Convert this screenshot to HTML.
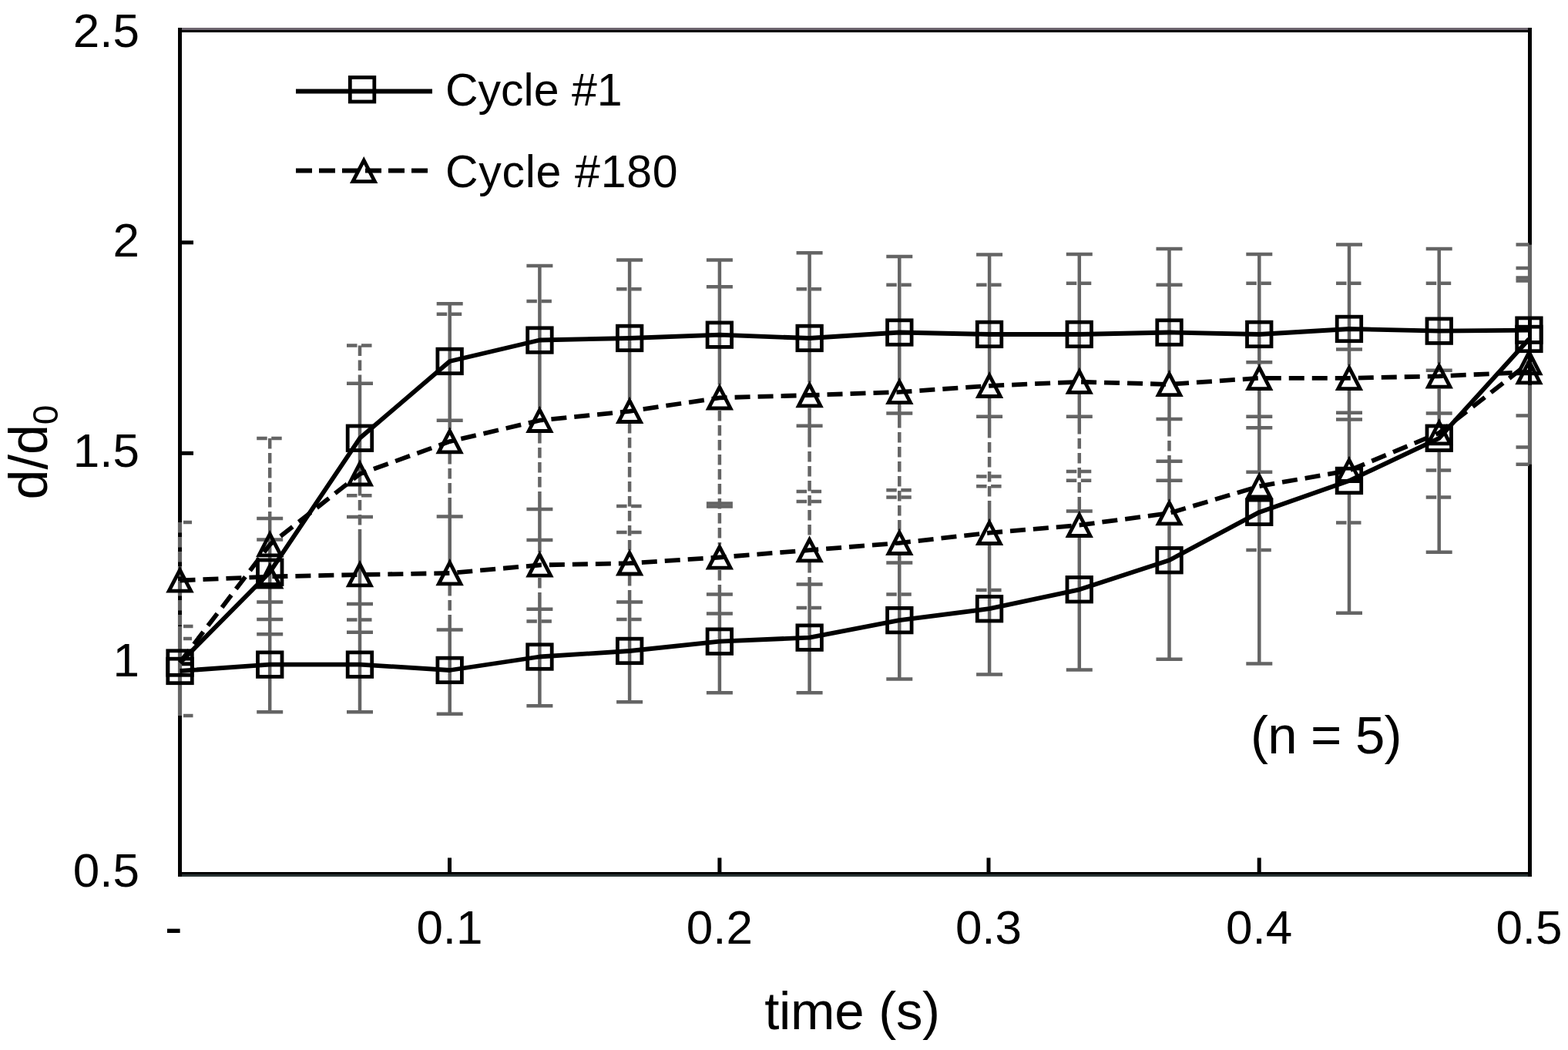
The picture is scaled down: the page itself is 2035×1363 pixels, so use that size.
<!DOCTYPE html>
<html><head><meta charset="utf-8"><title>d/d0 vs time</title>
<style>html,body{margin:0;padding:0;background:#fff;}svg{display:block;}text{font-family:"Liberation Sans",sans-serif;fill:#000;}</style>
</head><body>
<svg width="2035" height="1363" viewBox="0 0 2035 1363">
<rect x="0" y="0" width="2035" height="1363" fill="#fff"/>
<g>
<rect x="231" y="36" width="1757" height="3" fill="#6e6670"/>
<rect x="231" y="39" width="1757" height="3" fill="#000"/>
<rect x="231" y="1132" width="1757" height="3" fill="#000"/>
<rect x="231" y="1135" width="1757" height="3" fill="#2b3636"/>
<rect x="231" y="36" width="5" height="1102" fill="#000"/>
<rect x="1983" y="36" width="5" height="1102" fill="#000"/>
<rect x="236" y="312.3" width="15" height="5" fill="#000"/>
<rect x="236" y="585.8" width="15" height="5" fill="#000"/>
<rect x="236" y="859.3" width="15" height="5" fill="#000"/>
<rect x="581.0" y="1113.5" width="5" height="19" fill="#000"/>
<rect x="931.4" y="1113.5" width="5" height="19" fill="#000"/>
<rect x="1280.5" y="1113.5" width="5" height="19" fill="#000"/>
<rect x="1631.7" y="1113.5" width="5" height="19" fill="#000"/>
</g>
<defs><clipPath id="pc"><rect x="238" y="0" width="1746.5" height="1363"/></clipPath></defs>
<g stroke="#646464" fill="none">
<line x1="233.5" y1="678.0" x2="233.5" y2="760.0" stroke-width="5.2" stroke-dasharray="13.5 5.5"/>
<line x1="233.5" y1="760.0" x2="233.5" y2="813.0" stroke-width="5.2" stroke-dasharray="13.5 5.5"/>
<line x1="233.5" y1="813.0" x2="233.5" y2="929.0" stroke-width="5.2"/>
<line x1="350.2" y1="569.0" x2="350.2" y2="673.0" stroke-width="4.5" stroke-dasharray="13.5 5.5"/>
<line x1="350.2" y1="673.0" x2="350.2" y2="924.3" stroke-width="4.5"/>
<line x1="467.0" y1="448.4" x2="467.0" y2="497.8" stroke-width="4.5" stroke-dasharray="13.5 5.5"/>
<line x1="467.0" y1="497.8" x2="467.0" y2="630.0" stroke-width="4.5"/>
<line x1="467.0" y1="630.0" x2="467.0" y2="700.0" stroke-width="4.5" stroke-dasharray="13.5 5.5"/>
<line x1="467.0" y1="700.0" x2="467.0" y2="924.3" stroke-width="4.5"/>
<line x1="583.7" y1="394.3" x2="583.7" y2="557.0" stroke-width="4.5"/>
<line x1="583.7" y1="589.0" x2="583.7" y2="653.0" stroke-width="4.5" stroke-dasharray="13.5 5.5"/>
<line x1="583.7" y1="653.0" x2="583.7" y2="729.0" stroke-width="4.5"/>
<line x1="583.7" y1="760.0" x2="583.7" y2="810.0" stroke-width="4.5" stroke-dasharray="13.5 5.5"/>
<line x1="583.7" y1="810.0" x2="583.7" y2="926.8" stroke-width="4.5"/>
<line x1="700.4" y1="344.9" x2="700.4" y2="530.0" stroke-width="4.5"/>
<line x1="700.4" y1="562.0" x2="700.4" y2="646.0" stroke-width="4.5" stroke-dasharray="13.5 5.5"/>
<line x1="700.4" y1="646.0" x2="700.4" y2="717.0" stroke-width="4.5"/>
<line x1="700.4" y1="750.0" x2="700.4" y2="775.0" stroke-width="4.5" stroke-dasharray="13.5 5.5"/>
<line x1="700.4" y1="775.0" x2="700.4" y2="916.3" stroke-width="4.5"/>
<line x1="817.1" y1="337.4" x2="817.1" y2="518.0" stroke-width="4.5"/>
<line x1="817.1" y1="549.0" x2="817.1" y2="715.0" stroke-width="4.5" stroke-dasharray="13.5 5.5"/>
<line x1="817.1" y1="747.0" x2="817.1" y2="770.0" stroke-width="4.5" stroke-dasharray="13.5 5.5"/>
<line x1="817.1" y1="770.0" x2="817.1" y2="911.3" stroke-width="4.5"/>
<line x1="933.9" y1="337.4" x2="933.9" y2="499.5" stroke-width="4.5"/>
<line x1="933.9" y1="533.0" x2="933.9" y2="707.0" stroke-width="4.5" stroke-dasharray="13.5 5.5"/>
<line x1="933.9" y1="740.0" x2="933.9" y2="765.0" stroke-width="4.5" stroke-dasharray="13.5 5.5"/>
<line x1="933.9" y1="765.0" x2="933.9" y2="899.3" stroke-width="4.5"/>
<line x1="1050.6" y1="328.2" x2="1050.6" y2="496.5" stroke-width="4.5"/>
<line x1="1050.6" y1="529.5" x2="1050.6" y2="567.0" stroke-width="4.5"/>
<line x1="1050.6" y1="567.0" x2="1050.6" y2="698.5" stroke-width="4.5" stroke-dasharray="13.5 5.5"/>
<line x1="1050.6" y1="730.0" x2="1050.6" y2="752.0" stroke-width="4.5" stroke-dasharray="13.5 5.5"/>
<line x1="1050.6" y1="752.0" x2="1050.6" y2="899.3" stroke-width="4.5"/>
<line x1="1167.3" y1="332.9" x2="1167.3" y2="493.3" stroke-width="4.5"/>
<line x1="1167.3" y1="524.5" x2="1167.3" y2="542.0" stroke-width="4.5"/>
<line x1="1167.3" y1="542.0" x2="1167.3" y2="688.6" stroke-width="4.5" stroke-dasharray="13.5 5.5"/>
<line x1="1167.3" y1="721.0" x2="1167.3" y2="881.4" stroke-width="4.5"/>
<line x1="1284.1" y1="330.4" x2="1284.1" y2="485.8" stroke-width="4.5"/>
<line x1="1284.1" y1="515.7" x2="1284.1" y2="555.0" stroke-width="4.5"/>
<line x1="1284.1" y1="555.0" x2="1284.1" y2="660.0" stroke-width="4.5" stroke-dasharray="13.5 5.5"/>
<line x1="1284.1" y1="660.0" x2="1284.1" y2="676.0" stroke-width="4.5"/>
<line x1="1284.1" y1="707.3" x2="1284.1" y2="875.6" stroke-width="4.5"/>
<line x1="1400.8" y1="329.9" x2="1400.8" y2="480.8" stroke-width="4.5"/>
<line x1="1400.8" y1="510.7" x2="1400.8" y2="550.0" stroke-width="4.5"/>
<line x1="1400.8" y1="550.0" x2="1400.8" y2="646.0" stroke-width="4.5" stroke-dasharray="13.5 5.5"/>
<line x1="1400.8" y1="646.0" x2="1400.8" y2="666.0" stroke-width="4.5"/>
<line x1="1400.8" y1="697.3" x2="1400.8" y2="869.4" stroke-width="4.5"/>
<line x1="1517.5" y1="322.9" x2="1517.5" y2="483.3" stroke-width="4.5"/>
<line x1="1517.5" y1="514.5" x2="1517.5" y2="553.0" stroke-width="4.5"/>
<line x1="1517.5" y1="553.0" x2="1517.5" y2="598.8" stroke-width="4.5" stroke-dasharray="13.5 5.5"/>
<line x1="1517.5" y1="598.8" x2="1517.5" y2="650.0" stroke-width="4.5"/>
<line x1="1517.5" y1="682.3" x2="1517.5" y2="855.7" stroke-width="4.5"/>
<line x1="1634.3" y1="329.9" x2="1634.3" y2="474.6" stroke-width="4.5"/>
<line x1="1634.3" y1="507.0" x2="1634.3" y2="615.0" stroke-width="4.5"/>
<line x1="1634.3" y1="647.4" x2="1634.3" y2="861.4" stroke-width="4.5"/>
<line x1="1751.0" y1="317.4" x2="1751.0" y2="474.6" stroke-width="4.5"/>
<line x1="1751.0" y1="507.0" x2="1751.0" y2="595.0" stroke-width="4.5"/>
<line x1="1751.0" y1="642.0" x2="1751.0" y2="795.8" stroke-width="4.5"/>
<line x1="1867.7" y1="322.9" x2="1867.7" y2="472.1" stroke-width="4.5"/>
<line x1="1867.7" y1="504.5" x2="1867.7" y2="547.0" stroke-width="4.5"/>
<line x1="1867.7" y1="587.0" x2="1867.7" y2="716.7" stroke-width="4.5"/>
<line x1="1985.5" y1="317.6" x2="1985.5" y2="411.0" stroke-width="5.2"/>
<line x1="1985.5" y1="500.0" x2="1985.5" y2="602.8" stroke-width="5.2"/>
</g>
<g stroke="#646464" fill="none" clip-path="url(#pc)">
<line x1="216.5" y1="678.0" x2="250.5" y2="678.0" stroke-width="4.5" stroke-dasharray="13.5 5.5"/>
<line x1="216.5" y1="813.0" x2="250.5" y2="813.0" stroke-width="4.5"/>
<line x1="216.5" y1="829.0" x2="250.5" y2="829.0" stroke-width="4.5" stroke-dasharray="13.5 5.5"/>
<line x1="216.5" y1="929.0" x2="250.5" y2="929.0" stroke-width="4.5"/>
<line x1="333.2" y1="569.0" x2="367.2" y2="569.0" stroke-width="4.5" stroke-dasharray="13.5 5.5"/>
<line x1="333.2" y1="673.0" x2="367.2" y2="673.0" stroke-width="4.5"/>
<line x1="333.2" y1="700.6" x2="367.2" y2="700.6" stroke-width="4.5"/>
<line x1="333.2" y1="781.6" x2="367.2" y2="781.6" stroke-width="4.5"/>
<line x1="333.2" y1="804.1" x2="367.2" y2="804.1" stroke-width="4.5"/>
<line x1="333.2" y1="823.3" x2="367.2" y2="823.3" stroke-width="4.5"/>
<line x1="333.2" y1="924.3" x2="367.2" y2="924.3" stroke-width="4.5"/>
<line x1="450.0" y1="448.4" x2="484.0" y2="448.4" stroke-width="4.5" stroke-dasharray="13.5 5.5"/>
<line x1="450.0" y1="497.8" x2="484.0" y2="497.8" stroke-width="4.5"/>
<line x1="450.0" y1="643.2" x2="484.0" y2="643.2" stroke-width="4.5" stroke-dasharray="13.5 5.5"/>
<line x1="450.0" y1="671.1" x2="484.0" y2="671.1" stroke-width="4.5"/>
<line x1="450.0" y1="784.1" x2="484.0" y2="784.1" stroke-width="4.5"/>
<line x1="450.0" y1="804.6" x2="484.0" y2="804.6" stroke-width="4.5" stroke-dasharray="13.5 5.5"/>
<line x1="450.0" y1="820.8" x2="484.0" y2="820.8" stroke-width="4.5"/>
<line x1="450.0" y1="924.3" x2="484.0" y2="924.3" stroke-width="4.5"/>
<line x1="566.7" y1="394.3" x2="600.7" y2="394.3" stroke-width="4.5"/>
<line x1="566.7" y1="407.7" x2="600.7" y2="407.7" stroke-width="4.5" stroke-dasharray="13.5 5.5"/>
<line x1="566.7" y1="545.7" x2="600.7" y2="545.7" stroke-width="4.5"/>
<line x1="566.7" y1="670.6" x2="600.7" y2="670.6" stroke-width="4.5"/>
<line x1="566.7" y1="817.5" x2="600.7" y2="817.5" stroke-width="4.5"/>
<line x1="566.7" y1="926.8" x2="600.7" y2="926.8" stroke-width="4.5"/>
<line x1="683.4" y1="344.9" x2="717.4" y2="344.9" stroke-width="4.5"/>
<line x1="683.4" y1="391.0" x2="717.4" y2="391.0" stroke-width="4.5" stroke-dasharray="13.5 5.5"/>
<line x1="683.4" y1="661.1" x2="717.4" y2="661.1" stroke-width="4.5"/>
<line x1="683.4" y1="701.0" x2="717.4" y2="701.0" stroke-width="4.5"/>
<line x1="683.4" y1="790.8" x2="717.4" y2="790.8" stroke-width="4.5"/>
<line x1="683.4" y1="806.5" x2="717.4" y2="806.5" stroke-width="4.5" stroke-dasharray="13.5 5.5"/>
<line x1="683.4" y1="916.3" x2="717.4" y2="916.3" stroke-width="4.5"/>
<line x1="800.1" y1="337.4" x2="834.1" y2="337.4" stroke-width="4.5"/>
<line x1="800.1" y1="375.3" x2="834.1" y2="375.3" stroke-width="4.5" stroke-dasharray="13.5 5.5"/>
<line x1="800.1" y1="656.9" x2="834.1" y2="656.9" stroke-width="4.5" stroke-dasharray="13.5 5.5"/>
<line x1="800.1" y1="691.0" x2="834.1" y2="691.0" stroke-width="4.5" stroke-dasharray="13.5 5.5"/>
<line x1="800.1" y1="781.6" x2="834.1" y2="781.6" stroke-width="4.5"/>
<line x1="800.1" y1="804.0" x2="834.1" y2="804.0" stroke-width="4.5" stroke-dasharray="13.5 5.5"/>
<line x1="800.1" y1="911.3" x2="834.1" y2="911.3" stroke-width="4.5"/>
<line x1="916.9" y1="337.4" x2="950.9" y2="337.4" stroke-width="4.5"/>
<line x1="916.9" y1="372.3" x2="950.9" y2="372.3" stroke-width="4.5"/>
<line x1="916.9" y1="653.6" x2="950.9" y2="653.6" stroke-width="4.5"/>
<line x1="916.9" y1="657.4" x2="950.9" y2="657.4" stroke-width="4.5"/>
<line x1="916.9" y1="771.6" x2="950.9" y2="771.6" stroke-width="4.5"/>
<line x1="916.9" y1="796.6" x2="950.9" y2="796.6" stroke-width="4.5"/>
<line x1="916.9" y1="899.3" x2="950.9" y2="899.3" stroke-width="4.5"/>
<line x1="1033.6" y1="328.2" x2="1067.6" y2="328.2" stroke-width="4.5"/>
<line x1="1033.6" y1="375.3" x2="1067.6" y2="375.3" stroke-width="4.5" stroke-dasharray="13.5 5.5"/>
<line x1="1033.6" y1="552.7" x2="1067.6" y2="552.7" stroke-width="4.5"/>
<line x1="1033.6" y1="637.9" x2="1067.6" y2="637.9" stroke-width="4.5" stroke-dasharray="13.5 5.5"/>
<line x1="1033.6" y1="651.1" x2="1067.6" y2="651.1" stroke-width="4.5" stroke-dasharray="13.5 5.5"/>
<line x1="1033.6" y1="758.4" x2="1067.6" y2="758.4" stroke-width="4.5"/>
<line x1="1033.6" y1="789.1" x2="1067.6" y2="789.1" stroke-width="4.5" stroke-dasharray="13.5 5.5"/>
<line x1="1033.6" y1="899.3" x2="1067.6" y2="899.3" stroke-width="4.5"/>
<line x1="1150.3" y1="332.9" x2="1184.3" y2="332.9" stroke-width="4.5"/>
<line x1="1150.3" y1="369.8" x2="1184.3" y2="369.8" stroke-width="4.5" stroke-dasharray="13.5 5.5"/>
<line x1="1150.3" y1="536.4" x2="1184.3" y2="536.4" stroke-width="4.5"/>
<line x1="1150.3" y1="636.2" x2="1184.3" y2="636.2" stroke-width="4.5" stroke-dasharray="13.5 5.5"/>
<line x1="1150.3" y1="645.6" x2="1184.3" y2="645.6" stroke-width="4.5" stroke-dasharray="13.5 5.5"/>
<line x1="1150.3" y1="730.5" x2="1184.3" y2="730.5" stroke-width="4.5"/>
<line x1="1150.3" y1="771.6" x2="1184.3" y2="771.6" stroke-width="4.5" stroke-dasharray="13.5 5.5"/>
<line x1="1150.3" y1="881.4" x2="1184.3" y2="881.4" stroke-width="4.5"/>
<line x1="1267.1" y1="330.4" x2="1301.1" y2="330.4" stroke-width="4.5"/>
<line x1="1267.1" y1="369.8" x2="1301.1" y2="369.8" stroke-width="4.5" stroke-dasharray="13.5 5.5"/>
<line x1="1267.1" y1="540.7" x2="1301.1" y2="540.7" stroke-width="4.5"/>
<line x1="1267.1" y1="618.4" x2="1301.1" y2="618.4" stroke-width="4.5" stroke-dasharray="13.5 5.5"/>
<line x1="1267.1" y1="631.2" x2="1301.1" y2="631.2" stroke-width="4.5" stroke-dasharray="13.5 5.5"/>
<line x1="1267.1" y1="765.9" x2="1301.1" y2="765.9" stroke-width="4.5" stroke-dasharray="13.5 5.5"/>
<line x1="1267.1" y1="875.6" x2="1301.1" y2="875.6" stroke-width="4.5"/>
<line x1="1383.8" y1="329.9" x2="1417.8" y2="329.9" stroke-width="4.5"/>
<line x1="1383.8" y1="367.8" x2="1417.8" y2="367.8" stroke-width="4.5" stroke-dasharray="13.5 5.5"/>
<line x1="1383.8" y1="540.7" x2="1417.8" y2="540.7" stroke-width="4.5"/>
<line x1="1383.8" y1="612.0" x2="1417.8" y2="612.0" stroke-width="4.5" stroke-dasharray="13.5 5.5"/>
<line x1="1383.8" y1="623.7" x2="1417.8" y2="623.7" stroke-width="4.5" stroke-dasharray="13.5 5.5"/>
<line x1="1383.8" y1="663.6" x2="1417.8" y2="663.6" stroke-width="4.5"/>
<line x1="1383.8" y1="869.4" x2="1417.8" y2="869.4" stroke-width="4.5"/>
<line x1="1500.5" y1="322.9" x2="1534.5" y2="322.9" stroke-width="4.5"/>
<line x1="1500.5" y1="369.8" x2="1534.5" y2="369.8" stroke-width="4.5"/>
<line x1="1500.5" y1="543.9" x2="1534.5" y2="543.9" stroke-width="4.5"/>
<line x1="1500.5" y1="598.8" x2="1534.5" y2="598.8" stroke-width="4.5"/>
<line x1="1500.5" y1="623.7" x2="1534.5" y2="623.7" stroke-width="4.5"/>
<line x1="1500.5" y1="855.7" x2="1534.5" y2="855.7" stroke-width="4.5"/>
<line x1="1617.3" y1="329.9" x2="1651.3" y2="329.9" stroke-width="4.5"/>
<line x1="1617.3" y1="367.8" x2="1651.3" y2="367.8" stroke-width="4.5" stroke-dasharray="13.5 5.5"/>
<line x1="1617.3" y1="470.3" x2="1651.3" y2="470.3" stroke-width="4.5"/>
<line x1="1617.3" y1="540.7" x2="1651.3" y2="540.7" stroke-width="4.5"/>
<line x1="1617.3" y1="555.2" x2="1651.3" y2="555.2" stroke-width="4.5"/>
<line x1="1617.3" y1="612.8" x2="1651.3" y2="612.8" stroke-width="4.5"/>
<line x1="1617.3" y1="714.0" x2="1651.3" y2="714.0" stroke-width="4.5" stroke-dasharray="13.5 5.5"/>
<line x1="1617.3" y1="861.4" x2="1651.3" y2="861.4" stroke-width="4.5"/>
<line x1="1734.0" y1="317.4" x2="1768.0" y2="317.4" stroke-width="4.5"/>
<line x1="1734.0" y1="367.8" x2="1768.0" y2="367.8" stroke-width="4.5" stroke-dasharray="13.5 5.5"/>
<line x1="1734.0" y1="453.4" x2="1768.0" y2="453.4" stroke-width="4.5"/>
<line x1="1734.0" y1="535.7" x2="1768.0" y2="535.7" stroke-width="4.5"/>
<line x1="1734.0" y1="544.4" x2="1768.0" y2="544.4" stroke-width="4.5"/>
<line x1="1734.0" y1="678.6" x2="1768.0" y2="678.6" stroke-width="4.5" stroke-dasharray="13.5 5.5"/>
<line x1="1734.0" y1="795.8" x2="1768.0" y2="795.8" stroke-width="4.5"/>
<line x1="1850.7" y1="322.9" x2="1884.7" y2="322.9" stroke-width="4.5"/>
<line x1="1850.7" y1="367.8" x2="1884.7" y2="367.8" stroke-width="4.5" stroke-dasharray="13.5 5.5"/>
<line x1="1850.7" y1="480.8" x2="1884.7" y2="480.8" stroke-width="4.5"/>
<line x1="1850.7" y1="536.4" x2="1884.7" y2="536.4" stroke-width="4.5"/>
<line x1="1850.7" y1="610.5" x2="1884.7" y2="610.5" stroke-width="4.5" stroke-dasharray="13.5 5.5"/>
<line x1="1850.7" y1="645.6" x2="1884.7" y2="645.6" stroke-width="4.5" stroke-dasharray="13.5 5.5"/>
<line x1="1850.7" y1="716.7" x2="1884.7" y2="716.7" stroke-width="4.5"/>
<line x1="1967.5" y1="317.6" x2="2001.5" y2="317.6" stroke-width="4.5"/>
<line x1="1967.5" y1="348.1" x2="2001.5" y2="348.1" stroke-width="4.5"/>
<line x1="1967.5" y1="360.6" x2="2001.5" y2="360.6" stroke-width="4.5"/>
<line x1="1967.5" y1="364.6" x2="2001.5" y2="364.6" stroke-width="4.5"/>
<line x1="1967.5" y1="539.4" x2="2001.5" y2="539.4" stroke-width="4.5"/>
<line x1="1967.5" y1="580.5" x2="2001.5" y2="580.5" stroke-width="4.5"/>
<line x1="1967.5" y1="602.8" x2="2001.5" y2="602.8" stroke-width="4.5"/>
</g>
<g fill="none" stroke="#000" stroke-width="5.8" stroke-linejoin="round">
<polyline points="233.5,860.5 350.2,742.7 467.0,568.8 583.7,469.0 700.4,441.5 817.1,439.0 933.9,434.7 1050.6,439.0 1167.3,431.5 1284.1,434.0 1400.8,434.0 1517.5,431.5 1634.3,434.0 1751.0,427.0 1867.7,429.7 1984.5,428.7"/>
<polyline points="233.5,871.0 350.2,862.6 467.0,862.6 583.7,870.0 700.4,852.5 817.1,845.0 933.9,832.6 1050.6,827.6 1167.3,805.1 1284.1,790.2 1400.8,765.3 1517.5,727.3 1634.3,664.9 1751.0,624.0 1867.7,568.8 1984.5,440.0"/>
<polyline points="233.5,860.0 350.2,707.0 467.0,615.3 583.7,573.1 700.4,545.7 817.1,533.8 933.9,516.3 1050.6,513.0 1167.3,508.9 1284.1,500.8 1400.8,495.7 1517.5,498.9 1634.3,490.8 1751.0,490.8 1867.7,488.3 1984.5,483.0" stroke-dasharray="20 10"/>
<polyline points="233.5,753.5 350.2,748.5 467.0,746.0 583.7,744.0 700.4,733.5 817.1,731.2 933.9,723.5 1050.6,714.1 1167.3,704.8 1284.1,691.7 1400.8,681.7 1517.5,666.1 1634.3,631.2 1751.0,610.7 1867.7,562.0 1984.5,471.0" stroke-dasharray="20 10"/>
</g>
<g fill="none" stroke="#000" stroke-width="4.8" stroke-linejoin="miter">
<rect x="217.8" y="844.8" width="31.5" height="31.5"/>
<rect x="217.8" y="855.2" width="31.5" height="31.5"/>
<rect x="334.5" y="727.0" width="31.5" height="31.5"/>
<rect x="334.5" y="846.9" width="31.5" height="31.5"/>
<rect x="451.2" y="553.0" width="31.5" height="31.5"/>
<rect x="451.2" y="846.9" width="31.5" height="31.5"/>
<rect x="567.9" y="453.2" width="31.5" height="31.5"/>
<rect x="567.9" y="854.2" width="31.5" height="31.5"/>
<rect x="684.7" y="425.8" width="31.5" height="31.5"/>
<rect x="684.7" y="836.8" width="31.5" height="31.5"/>
<rect x="801.4" y="423.2" width="31.5" height="31.5"/>
<rect x="801.4" y="829.2" width="31.5" height="31.5"/>
<rect x="918.1" y="418.9" width="31.5" height="31.5"/>
<rect x="918.1" y="816.9" width="31.5" height="31.5"/>
<rect x="1034.9" y="423.2" width="31.5" height="31.5"/>
<rect x="1034.9" y="811.9" width="31.5" height="31.5"/>
<rect x="1151.6" y="415.8" width="31.5" height="31.5"/>
<rect x="1151.6" y="789.4" width="31.5" height="31.5"/>
<rect x="1268.3" y="418.2" width="31.5" height="31.5"/>
<rect x="1268.3" y="774.5" width="31.5" height="31.5"/>
<rect x="1385.0" y="418.2" width="31.5" height="31.5"/>
<rect x="1385.0" y="749.5" width="31.5" height="31.5"/>
<rect x="1501.8" y="415.8" width="31.5" height="31.5"/>
<rect x="1501.8" y="711.5" width="31.5" height="31.5"/>
<rect x="1618.5" y="418.2" width="31.5" height="31.5"/>
<rect x="1618.5" y="649.1" width="31.5" height="31.5"/>
<rect x="1735.2" y="411.2" width="31.5" height="31.5"/>
<rect x="1735.2" y="608.2" width="31.5" height="31.5"/>
<rect x="1852.0" y="413.9" width="31.5" height="31.5"/>
<rect x="1852.0" y="553.0" width="31.5" height="31.5"/>
<rect x="1968.7" y="412.9" width="31.5" height="31.5"/>
<rect x="1968.7" y="424.2" width="31.5" height="31.5"/>
</g>
<g fill="none" stroke="#000" stroke-width="4.8" stroke-linejoin="miter">
<path d="M233.5,739.8 L247.8,767.2 L219.2,767.2 Z"/>
<path d="M350.2,693.2 L364.5,720.8 L336.0,720.8 Z"/>
<path d="M350.2,734.8 L364.5,762.2 L336.0,762.2 Z"/>
<path d="M467.0,601.5 L481.2,629.0 L452.7,629.0 Z"/>
<path d="M467.0,732.2 L481.2,759.8 L452.7,759.8 Z"/>
<path d="M583.7,559.4 L597.9,586.9 L569.4,586.9 Z"/>
<path d="M583.7,730.2 L597.9,757.8 L569.4,757.8 Z"/>
<path d="M700.4,532.0 L714.7,559.5 L686.2,559.5 Z"/>
<path d="M700.4,719.8 L714.7,747.2 L686.2,747.2 Z"/>
<path d="M817.1,520.0 L831.4,547.5 L802.9,547.5 Z"/>
<path d="M817.1,717.5 L831.4,745.0 L802.9,745.0 Z"/>
<path d="M933.9,502.5 L948.1,530.0 L919.6,530.0 Z"/>
<path d="M933.9,709.8 L948.1,737.2 L919.6,737.2 Z"/>
<path d="M1050.6,499.2 L1064.9,526.8 L1036.4,526.8 Z"/>
<path d="M1050.6,700.4 L1064.9,727.9 L1036.4,727.9 Z"/>
<path d="M1167.3,495.1 L1181.6,522.6 L1153.1,522.6 Z"/>
<path d="M1167.3,691.0 L1181.6,718.5 L1153.1,718.5 Z"/>
<path d="M1284.1,487.1 L1298.3,514.5 L1269.8,514.5 Z"/>
<path d="M1284.1,678.0 L1298.3,705.5 L1269.8,705.5 Z"/>
<path d="M1400.8,481.9 L1415.0,509.4 L1386.5,509.4 Z"/>
<path d="M1400.8,668.0 L1415.0,695.5 L1386.5,695.5 Z"/>
<path d="M1517.5,485.1 L1531.8,512.6 L1503.3,512.6 Z"/>
<path d="M1517.5,652.4 L1531.8,679.9 L1503.3,679.9 Z"/>
<path d="M1634.3,477.1 L1648.5,504.6 L1620.0,504.6 Z"/>
<path d="M1634.3,617.5 L1648.5,645.0 L1620.0,645.0 Z"/>
<path d="M1751.0,477.1 L1765.2,504.6 L1736.7,504.6 Z"/>
<path d="M1751.0,597.0 L1765.2,624.5 L1736.7,624.5 Z"/>
<path d="M1867.7,474.6 L1882.0,502.1 L1853.5,502.1 Z"/>
<path d="M1867.7,548.2 L1882.0,575.8 L1853.5,575.8 Z"/>
<path d="M1984.5,469.2 L1998.7,496.8 L1970.2,496.8 Z"/>
<path d="M1984.5,457.2 L1998.7,484.8 L1970.2,484.8 Z"/>
</g>
<line x1="384" y1="118.5" x2="561" y2="118.5" stroke="#000" stroke-width="6.2"/>
<rect x="454.3" y="100.5" width="31.5" height="31.5" fill="none" stroke="#000" stroke-width="4.8"/>
<line x1="384" y1="221.5" x2="556" y2="221.5" stroke="#000" stroke-width="6.2" stroke-dasharray="21 9"/>
<g fill="none" stroke="#000" stroke-width="4.8"><path d="M472.2,208.2 L486.4,235.7 L457.9,235.7 Z"/></g>
<text x="578" y="136.8" font-size="59">Cycle #1</text>
<text x="578" y="242.8" font-size="59" letter-spacing="0.7">Cycle #180</text>
<text x="1623" y="978.4" font-size="69" letter-spacing="-0.8">(n = 5)</text>
<text x="181" y="60.6" font-size="62" text-anchor="end">2.5</text>
<text x="181" y="333.2" font-size="62" text-anchor="end">2</text>
<text x="181" y="605.8" font-size="62" text-anchor="end">1.5</text>
<text x="181" y="878.4" font-size="62" text-anchor="end">1</text>
<text x="181" y="1151.0" font-size="62" text-anchor="end">0.5</text>
<text x="225.3" y="1226.8" font-size="68" text-anchor="middle">-</text>
<text x="583.5" y="1224.6" font-size="62" text-anchor="middle">0.1</text>
<text x="933.9" y="1224.6" font-size="62" text-anchor="middle">0.2</text>
<text x="1283.0" y="1224.6" font-size="62" text-anchor="middle">0.3</text>
<text x="1634.2" y="1224.6" font-size="62" text-anchor="middle">0.4</text>
<text x="1984.5" y="1224.6" font-size="62" text-anchor="middle">0.5</text>
<text x="1106" y="1336.4" font-size="69" letter-spacing="-0.3" text-anchor="middle">time (s)</text>
<text transform="translate(61.4,587) rotate(-90)" font-size="70" text-anchor="middle">d/d<tspan font-size="46" dy="14">0</tspan></text>
</svg>
</body></html>
